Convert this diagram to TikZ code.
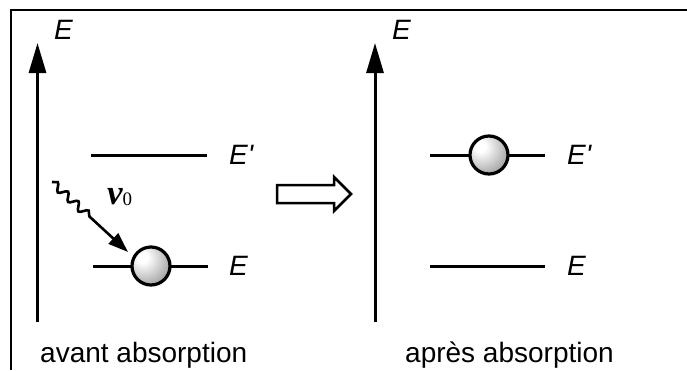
\documentclass[tikz,border=0pt]{standalone}
\usepackage{fontspec}
\setmainfont{Liberation Sans}
\newfontfamily\greekserif{Liberation Serif}
\newfontfamily\labfont[Ligatures=TeXOff]{Liberation Sans}
\usetikzlibrary{arrows.meta,decorations.pathmorphing}

% grey sphere with a highlight towards the upper left
\pgfdeclareradialshading{sphere}{\pgfpoint{-12bp}{12bp}}{%
  color(0bp)=(white); color(7bp)=(white); color(34bp)=(gray!70);
  color(62bp)=(black!62); color(100bp)=(black!62)}

\tikzset{
  frameline/.style={line width=2.2pt},
  axis/.style={line width=3pt, -{Triangle[length=30pt,width=17pt]}},
  level/.style={line width=3pt},
  particle/.style={circle, draw, line width=3.2pt, minimum size=38pt,
    inner sep=0pt, shading=sphere},
  lab/.style={font=\labfont\itshape\fontsize{28}{28}\selectfont, inner sep=0pt},
  caption/.style={font=\fontsize{28}{28}\selectfont, inner sep=0pt, anchor=base west},
  photon/.style={line width=2.6pt, -{Triangle[length=20pt,width=14pt]},
    decorate, decoration={snake, amplitude=3.8pt, segment length=14pt, post length=48pt}},
  hollow/.style={line width=2.5pt, line join=miter}
}

\begin{document}
\begin{tikzpicture}[x=1pt, y=-1pt]
\useasboundingbox (0,0) rectangle (687,370);

% open frame: top and left edges
\coordinate (fl) at (11,370);
\coordinate (fc) at (11,10);
\coordinate (fr) at (687,10);
\draw[frameline] (fl) -- (fc) -- (fr);

% ---- before absorption ----
\coordinate (a1b) at (37.5,322);
\coordinate (a1t) at (37.5,43);
\draw[axis] (a1b) -- (a1t);
\node[lab, anchor=west] (e1) at (54,30) {E};

\coordinate (u1a) at (91,155);
\coordinate (u1b) at (207,155);
\draw[level] (u1a) -- (u1b);
\node[lab, anchor=west] (up1) at (229,155) {E'};

\coordinate (g1a) at (93,266);
\coordinate (g1b) at (208,266);
\draw[level] (g1a) -- (g1b);
\node[lab, anchor=west] (gr1) at (229,266) {E};
\node[particle] (p1) at (151,266) {};

\coordinate (ph0) at (52,182);
\coordinate (ph1) at (128,252);
\draw[photon] (ph0) -- (ph1);
\node[inner sep=0pt, anchor=base west] (nu) at (107,204)
  {\greekserif\fontsize{35}{35}\selectfont\bfseries\itshape ν\mdseries\upshape\fontsize{19}{19}\selectfont\raisebox{-1pt}{0}};

% transition arrow
\draw[hollow] (277,185) -- (334,185) -- (334,177) -- (351,194)
  -- (334,211) -- (334,203) -- (277,203) -- cycle;

\node[caption] (c1) at (40,362) {avant absorption};

% ---- after absorption ----
\coordinate (a2b) at (375,322);
\coordinate (a2t) at (375,43);
\draw[axis] (a2b) -- (a2t);
\node[lab, anchor=west] (e2) at (392,30) {E};

\coordinate (u2a) at (430,155);
\coordinate (u2b) at (545,155);
\draw[level] (u2a) -- (u2b);
\node[lab, anchor=west] (up2) at (567,155) {E'};
\node[particle] (p2) at (489,155) {};

\coordinate (g2a) at (430,266);
\coordinate (g2b) at (545,266);
\draw[level] (g2a) -- (g2b);
\node[lab, anchor=west] (gr2) at (567,266) {E};

\node[caption] (c2) at (405,362) {après absorption};
\end{tikzpicture}
\end{document}
